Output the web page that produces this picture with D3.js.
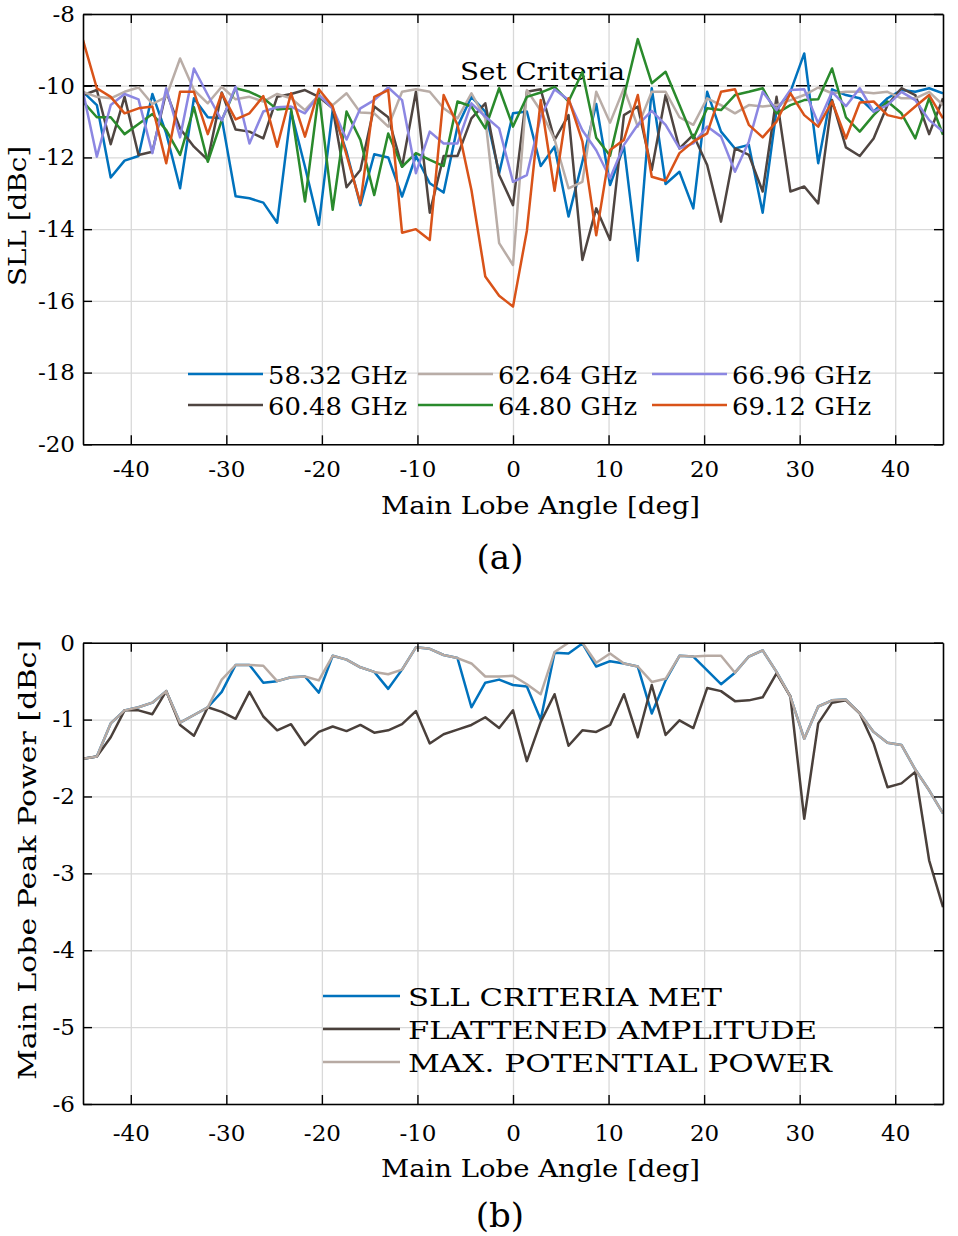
<!DOCTYPE html>
<html><head><meta charset="utf-8">
<script src="https://cdn.jsdelivr.net/npm/d3@7"></script>
<style>body{margin:0;background:#fff} svg{display:block} text{font-family:"DejaVu Serif",serif;fill:#000}</style>
</head><body><svg id="c" width="958" height="1236"></svg>
<script>
// ---- data ----
const angles = [-45,-43.55,-42.10,-40.65,-39.19,-37.74,-36.29,-34.84,-33.39,-31.94,-30.48,-29.03,-27.58,-26.13,-24.68,-23.23,-21.77,-20.32,-18.87,-17.42,-15.97,-14.52,-13.06,-11.61,-10.16,-8.71,-7.26,-5.81,-4.35,-2.90,-1.45,0,1.45,2.90,4.35,5.81,7.26,8.71,10.16,11.61,13.06,14.52,15.97,17.42,18.87,20.32,21.77,23.23,24.68,26.13,27.58,29.03,30.48,31.94,33.39,34.84,36.29,37.74,39.19,40.65,42.10,43.55,45];

const f5832 = [-10.17,-10.54,-12.56,-12.09,-11.96,-10.23,-11.33,-12.86,-10.35,-10.88,-10.91,-13.08,-13.14,-13.26,-13.82,-10.72,-12.26,-13.88,-10.68,-11.84,-13.33,-11.91,-12.00,-13.09,-11.96,-12.72,-12.98,-11.14,-10.31,-10.72,-12.44,-10.77,-10.72,-12.24,-11.70,-13.65,-12.12,-10.51,-12.77,-11.70,-14.88,-10.07,-12.74,-12.40,-13.42,-10.17,-11.28,-11.75,-11.65,-13.54,-10.68,-10.17,-9.10,-12.16,-10.10,-10.26,-10.35,-10.72,-10.35,-10.12,-10.17,-10.07,-10.21];
const f6048 = [-10.26,-10.12,-11.63,-10.31,-11.93,-11.84,-10.17,-11.19,-11.70,-12.07,-10.19,-11.22,-11.28,-11.47,-10.31,-10.23,-10.12,-10.31,-10.63,-12.83,-12.35,-10.58,-10.88,-12.26,-10.17,-13.54,-11.96,-11.96,-10.91,-10.49,-12.49,-13.33,-10.17,-10.10,-11.51,-10.82,-14.86,-13.42,-14.30,-10.82,-10.58,-12.35,-10.26,-11.75,-11.37,-12.21,-13.79,-11.75,-11.93,-12.95,-10.31,-12.95,-12.81,-13.28,-10.40,-11.72,-11.96,-11.47,-10.54,-10.07,-10.26,-11.35,-10.35];
const f6264 = [-10.17,-10.31,-10.35,-10.17,-10.05,-10.51,-10.31,-9.24,-10.12,-10.49,-10.03,-10.38,-10.31,-10.44,-10.23,-10.35,-10.68,-10.26,-10.54,-10.21,-10.75,-10.77,-11.14,-10.17,-10.10,-10.17,-10.63,-10.91,-10.21,-10.91,-14.39,-15.00,-10.12,-10.70,-11.50,-12.86,-12.68,-10.17,-11.03,-10.07,-11.14,-10.17,-10.17,-10.88,-11.09,-10.35,-10.54,-10.77,-10.54,-10.58,-10.54,-10.40,-10.26,-10.05,-10.21,-10.17,-10.17,-10.21,-10.17,-10.35,-10.35,-10.17,-10.54];
const f6480 = [-10.44,-10.88,-10.88,-11.35,-11.07,-10.79,-11.24,-11.93,-10.60,-12.12,-10.96,-10.07,-10.17,-10.35,-10.66,-10.63,-13.23,-10.21,-13.46,-10.72,-11.51,-13.05,-11.33,-12.26,-11.88,-12.07,-12.24,-10.44,-10.58,-11.19,-10.07,-11.14,-10.31,-10.19,-10.03,-10.44,-9.62,-11.45,-11.95,-10.30,-8.70,-9.93,-9.61,-10.54,-11.47,-10.63,-10.68,-10.26,-10.17,-10.07,-10.77,-10.54,-10.40,-10.38,-9.52,-10.88,-11.28,-10.82,-10.44,-10.77,-11.47,-10.35,-11.37];
const f6696 = [-10.17,-11.98,-10.54,-10.23,-10.38,-11.88,-10.07,-11.44,-9.52,-10.26,-10.97,-10.03,-11.61,-10.72,-10.60,-10.58,-10.77,-10.26,-10.63,-11.50,-10.63,-10.40,-10.05,-10.40,-12.44,-11.28,-11.61,-11.61,-10.49,-10.86,-11.19,-12.68,-12.49,-10.86,-10.10,-10.40,-11.24,-11.80,-12.58,-11.65,-11.09,-10.70,-11.09,-11.75,-11.61,-11.14,-11.42,-12.40,-11.56,-10.17,-10.68,-10.12,-10.10,-11.05,-10.17,-10.57,-10.07,-10.72,-10.54,-10.17,-10.40,-10.96,-11.28];
const f6912 = [-8.73,-10.07,-10.31,-10.77,-10.63,-10.58,-12.16,-10.17,-10.17,-11.35,-10.21,-10.94,-10.77,-10.29,-11.70,-10.21,-11.42,-10.10,-10.58,-11.93,-13.28,-10.31,-10.12,-14.10,-14.00,-14.30,-10.26,-11.09,-12.91,-15.32,-15.86,-16.16,-14.05,-10.40,-12.93,-10.35,-11.55,-14.17,-11.79,-11.51,-10.26,-12.54,-12.65,-11.88,-11.56,-11.33,-10.17,-10.10,-11.09,-11.44,-11.00,-10.21,-10.82,-11.14,-10.44,-11.47,-10.47,-10.44,-10.82,-10.91,-10.58,-10.26,-10.91];

const freqLabels = ["58.32 GHz","60.48 GHz","62.64 GHz","64.80 GHz","66.96 GHz","69.12 GHz"];
const freqColors = ["#0072bd","#4f4541","#b9ada7","#2a8a2c","#8c87e2","#d95319"];
const sllCriteria = -10;

const pCriteriaMet = [-1.51,-1.48,-1.05,-0.88,-0.84,-0.78,-0.63,-1.04,-0.94,-0.84,-0.64,-0.29,-0.29,-0.52,-0.50,-0.45,-0.44,-0.65,-0.17,-0.22,-0.32,-0.38,-0.60,-0.35,-0.06,-0.08,-0.16,-0.20,-0.84,-0.52,-0.48,-0.55,-0.57,-1.00,-0.13,-0.14,-0.01,-0.31,-0.24,-0.27,-0.31,-0.92,-0.49,-0.17,-0.18,-0.36,-0.54,-0.39,-0.18,-0.10,-0.38,-0.70,-1.25,-0.83,-0.75,-0.74,-0.92,-1.16,-1.30,-1.33,-1.65,-1.92,-2.22];
const pFlattened = [-1.51,-1.48,-1.23,-0.88,-0.88,-0.93,-0.63,-1.07,-1.21,-0.84,-0.90,-0.99,-0.64,-0.96,-1.14,-1.06,-1.33,-1.16,-1.09,-1.15,-1.07,-1.17,-1.14,-1.06,-0.89,-1.31,-1.19,-1.13,-1.07,-0.97,-1.11,-0.88,-1.54,-1.03,-0.67,-1.34,-1.14,-1.16,-1.07,-0.67,-1.23,-0.55,-1.20,-1.01,-1.11,-0.59,-0.63,-0.76,-0.75,-0.71,-0.40,-0.70,-2.29,-1.05,-0.78,-0.75,-0.92,-1.31,-1.88,-1.83,-1.68,-2.83,-3.44];
const pMaxPotential = [-1.51,-1.48,-1.05,-0.88,-0.84,-0.78,-0.63,-1.04,-0.94,-0.84,-0.48,-0.29,-0.29,-0.30,-0.50,-0.45,-0.44,-0.49,-0.17,-0.22,-0.32,-0.38,-0.41,-0.35,-0.06,-0.08,-0.16,-0.20,-0.27,-0.44,-0.44,-0.43,-0.54,-0.67,-0.12,0.00,0.00,-0.26,-0.14,-0.27,-0.31,-0.51,-0.47,-0.17,-0.18,-0.17,-0.17,-0.39,-0.18,-0.10,-0.38,-0.70,-1.25,-0.83,-0.75,-0.74,-0.92,-1.16,-1.30,-1.33,-1.65,-1.92,-2.22];
const powerLabels = ["SLL CRITERIA MET","FLATTENED AMPLITUDE","MAX. POTENTIAL POWER"];
const powerColors = ["#0072bd","#4a403b","#b7aaa3"];

const xTicks = [-40,-30,-20,-10,0,10,20,30,40];
const yTicksA = [-20,-18,-16,-14,-12,-10,-8];
const yTicksB = [-6,-5,-4,-3,-2,-1,0];

// ---- drawing ----
const svg = d3.select("#c");
const L = 83, R = 943;
const x = d3.scaleLinear().domain([-45,45]).range([L,R]);
const yA = d3.scaleLinear().domain([-20,-8]).range([444.3,14]);
const yB = d3.scaleLinear().domain([-6,0]).range([1104,642.7]);
const FS = 23;
const FONT = "DejaVu Serif";
const LW = 2.5;

function fitText(sel, w){ sel.attr("textLength", w).attr("lengthAdjust","spacingAndGlyphs"); return sel; }

function panel(id, y, yTicks, top, bottom){
  const g = svg.append("g");
  g.append("g").attr("transform",`translate(0,${bottom})`)
    .call(d3.axisBottom(x).tickValues(xTicks).tickSize(-(bottom-top)).tickFormat(""))
    .call(s=>{s.select(".domain").remove(); s.selectAll("line").attr("stroke","#d9d9d9").attr("stroke-width",1.3);});
  g.append("g").attr("transform",`translate(${L},0)`)
    .call(d3.axisLeft(y).tickValues(yTicks).tickSize(-(R-L)).tickFormat(""))
    .call(s=>{s.select(".domain").remove(); s.selectAll("line").attr("stroke","#d9d9d9").attr("stroke-width",1.3);});
  svg.append("clipPath").attr("id",id).append("rect").attr("x",L).attr("y",top).attr("width",R-L).attr("height",bottom-top);
  return g;
}

function frame(g, y, yTicks, top, bottom, xLabY){
  const fmt = d=>String(d);
  const style = s=>{ s.select(".domain").attr("stroke","#000").attr("stroke-width",1.6);
    s.selectAll(".tick line").attr("stroke","#000").attr("stroke-width",1.4);
    s.selectAll("text").attr("font-size",FS).attr("font-family",FONT).attr("fill","#000"); };
  g.append("g").attr("transform",`translate(0,${bottom})`)
    .call(d3.axisBottom(x).tickValues(xTicks).tickSize(-9).tickSizeOuter(0).tickPadding(xLabY).tickFormat(fmt)).call(style);
  g.append("g").attr("transform",`translate(0,${top})`)
    .call(d3.axisTop(x).tickValues(xTicks).tickSize(-9).tickSizeOuter(0).tickFormat("")).call(style);
  g.append("g").attr("transform",`translate(${L},0)`)
    .call(d3.axisLeft(y).tickValues(yTicks).tickSize(-9).tickSizeOuter(0).tickPadding(8).tickFormat(fmt)).call(style);
  g.append("g").attr("transform",`translate(${R},0)`)
    .call(d3.axisRight(y).tickValues(yTicks).tickSize(-9).tickSizeOuter(0).tickFormat("")).call(style);
}

// Panel (a)
const gA = panel("clipA", yA, yTicksA, 14, 444.3);
gA.append("line").attr("x1",L).attr("x2",R).attr("y1",yA(sllCriteria)).attr("y2",yA(sllCriteria))
  .attr("stroke","#000").attr("stroke-width",1.6).attr("stroke-dasharray","15,8");
fitText(gA.append("text").attr("x",460).attr("y",80).attr("font-size",24).text("Set Criteria"),165);

const seriesA = [f5832,f6048,f6264,f6480,f6696,f6912];
const lineA = d3.line().x((d,i)=>x(angles[i])).y(d=>yA(d));
const sa = gA.append("g").attr("clip-path","url(#clipA)");
seriesA.forEach((s,k)=>{
  sa.append("path").datum(s).attr("d",lineA).attr("fill","none").attr("stroke",freqColors[k])
    .attr("stroke-width",LW).attr("stroke-linejoin","round");
});
const legCols = [188,418,652], legRows = [374,405];
freqLabels.forEach((lab,k)=>{
  const c = Math.floor(k/2), r = k%2;
  gA.append("line").attr("x1",legCols[c]).attr("x2",legCols[c]+75).attr("y1",legRows[r]).attr("y2",legRows[r])
    .attr("stroke",freqColors[k]).attr("stroke-width",LW);
  fitText(gA.append("text").attr("x",legCols[c]+80).attr("y",legRows[r]+9.5).attr("font-size",25).text(lab),139);
});
frame(gA, yA, yTicksA, 14, 444.3, 16);
fitText(gA.append("text").attr("x",540.5).attr("y",514).attr("text-anchor","middle").attr("font-size",25).text("Main Lobe Angle [deg]"),319);
gA.append("text").attr("x",500).attr("y",569).attr("text-anchor","middle").attr("font-size",34).text("(a)");
fitText(gA.append("text").attr("transform","translate(26,216) rotate(-90)").attr("text-anchor","middle").attr("font-size",25).text("SLL [dBc]"),140);

// Panel (b)
const gB = panel("clipB", yB, yTicksB, 642.7, 1104);
const seriesB = [pCriteriaMet,pFlattened,pMaxPotential];
const lineB = d3.line().x((d,i)=>x(angles[i])).y(d=>yB(d));
const sb = gB.append("g").attr("clip-path","url(#clipB)");
seriesB.forEach((s,k)=>{
  sb.append("path").datum(s).attr("d",lineB).attr("fill","none").attr("stroke",powerColors[k])
    .attr("stroke-width",LW).attr("stroke-linejoin","round");
});
const legRowsB = [996,1029,1062], legW = [314,409,424];
powerLabels.forEach((lab,k)=>{
  gB.append("line").attr("x1",323).attr("x2",400).attr("y1",legRowsB[k]).attr("y2",legRowsB[k])
    .attr("stroke",powerColors[k]).attr("stroke-width",LW);
  fitText(gB.append("text").attr("x",408).attr("y",legRowsB[k]+10).attr("font-size",25).text(lab),legW[k]);
});
frame(gB, yB, yTicksB, 642.7, 1104, 21);
fitText(gB.append("text").attr("x",540.5).attr("y",1177).attr("text-anchor","middle").attr("font-size",25).text("Main Lobe Angle [deg]"),319);
gB.append("text").attr("x",500).attr("y",1227).attr("text-anchor","middle").attr("font-size",34).text("(b)");
fitText(gB.append("text").attr("transform","translate(36,860) rotate(-90)").attr("text-anchor","middle").attr("font-size",25).text("Main Lobe Peak Power [dBc]"),440);
</script></body></html>
